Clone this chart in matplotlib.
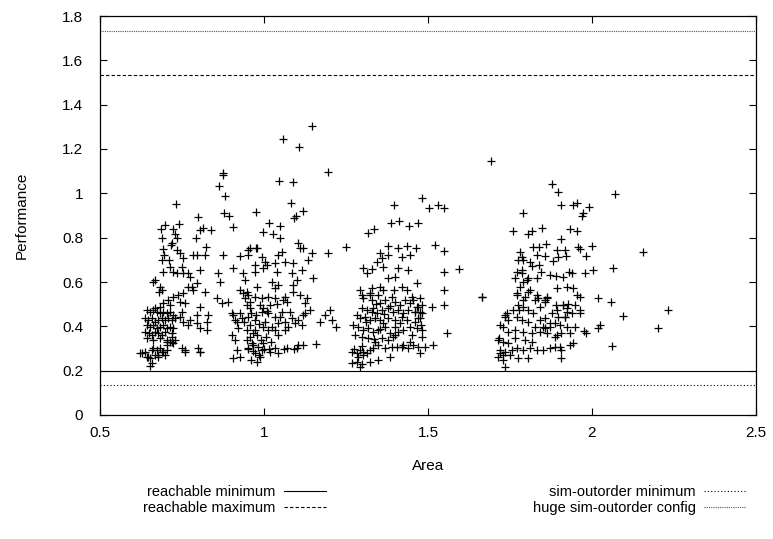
import matplotlib
matplotlib.use("Agg")
import matplotlib.pyplot as plt
from matplotlib.lines import Line2D
from matplotlib.ticker import FuncFormatter

plt.rcParams['font.family'] = ['Liberation Sans', 'DejaVu Sans']
plt.rcParams['font.size'] = 10

# reference levels
reach_min = 0.200
reach_max = 1.534
sim_min = 0.135
sim_huge = 1.732

# (area, performance), grouped by cluster
cluster1 = [
    (0.875, 1.093), (0.875, 1.083), (0.864, 1.033), (0.882, 0.988), (0.879, 0.911), (0.894, 0.899),
    (0.904, 0.847), (0.731, 0.950), (0.798, 0.894), (0.685, 0.837), (0.699, 0.857), (0.722, 0.839),
    (0.742, 0.860), (0.689, 0.798), (0.729, 0.816), (0.734, 0.800), (0.806, 0.834), (0.813, 0.843),
    (0.838, 0.834), (0.794, 0.798), (0.822, 0.759),
    (0.692, 0.748), (0.715, 0.767), (0.718, 0.778), (0.696, 0.722), (0.688, 0.699), (0.711, 0.699),
    (0.734, 0.744), (0.744, 0.729), (0.754, 0.707), (0.784, 0.722), (0.795, 0.722), (0.820, 0.722),
    (0.876, 0.722), (0.927, 0.717),
    (0.691, 0.646), (0.713, 0.669), (0.723, 0.646), (0.734, 0.639), (0.749, 0.669), (0.754, 0.639),
    (0.769, 0.639), (0.774, 0.624), (0.805, 0.654), (0.861, 0.639), (0.906, 0.662), (0.937, 0.639),
    (0.942, 0.609),
    (0.668, 0.609), (0.662, 0.601), (0.683, 0.579), (0.688, 0.564), (0.681, 0.556), (0.769, 0.579),
    (0.779, 0.579), (0.784, 0.564), (0.795, 0.594), (0.820, 0.556), (0.866, 0.601), (0.927, 0.564),
    (0.937, 0.549), (0.942, 0.526),
    (0.723, 0.534), (0.739, 0.541), (0.754, 0.549), (0.708, 0.519), (0.693, 0.504), (0.713, 0.496),
    (0.683, 0.489), (0.668, 0.481), (0.744, 0.511), (0.759, 0.504), (0.805, 0.489), (0.856, 0.526),
    (0.871, 0.504), (0.891, 0.511), (0.749, 0.466), (0.795, 0.451), (0.830, 0.451), (0.906, 0.451),
    (0.927, 0.459), (0.917, 0.421),
    (0.642, 0.474), (0.652, 0.466), (0.663, 0.474), (0.673, 0.466), (0.683, 0.459), (0.693, 0.466),
    (0.703, 0.459), (0.713, 0.466), (0.724, 0.451), (0.637, 0.436), (0.647, 0.428), (0.658, 0.436),
    (0.668, 0.421), (0.678, 0.428), (0.688, 0.436), (0.698, 0.428), (0.708, 0.436), (0.718, 0.428),
    (0.729, 0.436), (0.744, 0.444), (0.754, 0.421), (0.642, 0.406), (0.652, 0.398), (0.663, 0.406),
    (0.673, 0.391), (0.683, 0.398), (0.693, 0.406), (0.703, 0.391), (0.713, 0.398), (0.724, 0.391),
    (0.637, 0.376), (0.648, 0.368), (0.658, 0.361), (0.668, 0.376), (0.678, 0.368), (0.688, 0.361),
    (0.698, 0.376), (0.719, 0.368), (0.642, 0.346), (0.663, 0.338), (0.683, 0.346), (0.703, 0.338),
    (0.769, 0.406), (0.795, 0.414), (0.805, 0.391), (0.825, 0.421), (0.825, 0.383), (0.774, 0.428),
    (0.719, 0.353), (0.729, 0.338),
    (0.622, 0.278), (0.637, 0.286), (0.647, 0.263), (0.658, 0.233), (0.663, 0.301), (0.673, 0.293),
    (0.683, 0.301), (0.693, 0.286), (0.698, 0.271), (0.668, 0.271), (0.652, 0.256), (0.678, 0.263),
    (0.749, 0.301), (0.759, 0.293), (0.800, 0.301), (0.805, 0.286), (0.724, 0.323), (0.703, 0.316),
    (0.713, 0.331), (0.627, 0.278), (0.642, 0.263), (0.652, 0.222), (0.658, 0.293), (0.688, 0.285),
    (0.703, 0.293), (0.678, 0.270), (0.759, 0.285), (0.805, 0.285), (0.703, 0.330), (0.718, 0.330),
]

cluster2 = [
    (1.145, 1.304), (1.058, 1.244), (1.107, 1.210), (1.195, 1.098), (1.045, 1.057), (1.088, 1.052),
    (1.083, 0.958), (1.119, 0.919), (1.097, 0.898), (1.092, 0.887), (0.975, 0.914), (1.016, 0.866),
    (1.050, 0.852), (0.997, 0.825), (1.028, 0.816), (1.050, 0.800), (1.103, 0.774), (1.110, 0.755),
    (1.118, 0.752), (1.249, 0.759), (0.957, 0.752), (0.976, 0.755),
    (1.145, 0.729), (1.196, 0.729), (1.135, 0.699), (1.044, 0.722), (1.054, 0.737), (1.064, 0.692),
    (1.089, 0.684), (0.978, 0.752), (0.952, 0.744), (0.952, 0.722), (0.993, 0.714), (1.003, 0.692),
    (0.972, 0.677), (1.008, 0.677), (1.033, 0.684), (1.115, 0.654), (1.084, 0.639), (1.039, 0.647),
    (0.972, 0.647), (0.998, 0.662),
    (1.150, 0.616), (1.100, 0.609), (1.089, 0.586), (1.023, 0.601), (1.044, 0.586), (1.033, 0.571),
    (0.978, 0.579), (0.947, 0.556), (0.952, 0.541), (1.089, 0.556), (1.110, 0.541), (1.130, 0.526),
    (1.125, 0.504), (1.140, 0.474), (1.064, 0.534), (1.059, 0.519), (1.069, 0.511), (1.033, 0.526),
    (1.013, 0.534), (0.993, 0.526), (0.972, 0.534), (0.957, 0.511), (0.947, 0.496), (0.957, 0.481),
    (0.988, 0.496), (0.998, 0.481), (1.018, 0.496), (0.993, 0.466), (1.013, 0.459), (1.033, 0.444),
    (1.054, 0.466), (1.079, 0.466), (1.084, 0.436), (1.105, 0.429), (1.115, 0.406), (1.094, 0.414),
    (1.120, 0.451), (1.125, 0.459), (1.064, 0.421), (1.044, 0.414), (1.023, 0.398), (1.003, 0.421),
    (0.972, 0.428), (0.952, 0.444), (0.957, 0.406), (0.947, 0.383), (0.972, 0.383), (0.998, 0.398),
    (1.013, 0.383), (1.033, 0.383), (1.044, 0.361), (1.074, 0.398), (1.064, 0.383),
    (1.171, 0.421), (1.186, 0.451), (1.201, 0.474), (1.206, 0.428), (1.221, 0.398),
    (0.947, 0.338), (0.962, 0.323), (0.952, 0.301), (0.967, 0.316), (0.983, 0.308), (0.993, 0.293),
    (0.972, 0.278), (0.988, 0.263), (0.978, 0.241), (0.998, 0.323), (1.018, 0.286), (1.033, 0.301),
    (1.044, 0.278), (1.069, 0.301), (1.100, 0.301), (1.105, 0.316), (1.120, 0.316), (0.957, 0.353),
    (0.978, 0.361),
    (0.901, 0.459), (0.912, 0.428), (0.901, 0.361), (0.912, 0.338), (0.917, 0.293), (0.907, 0.256),
    (0.927, 0.263), (0.922, 0.391), (0.932, 0.436),
    (0.960, 0.460), (0.975, 0.450), (0.985, 0.410), (0.965, 0.370), (0.990, 0.340), (1.005, 0.350),
    (1.020, 0.330), (1.010, 0.470), (1.040, 0.500), (1.050, 0.440), (0.940, 0.420), (0.950, 0.300),
    (0.965, 0.290), (0.985, 0.270), (1.000, 0.300), (1.015, 0.300), (0.960, 0.250), (1.060, 0.300),
    (1.090, 0.300), (1.160, 0.320),
]

cluster3 = [
    (1.481, 0.977), (1.395, 0.947), (1.504, 0.932), (1.530, 0.947), (1.550, 0.932), (1.388, 0.868),
    (1.413, 0.875), (1.441, 0.854), (1.471, 0.865), (1.318, 0.819), (1.334, 0.837), (1.379, 0.764),
    (1.410, 0.755), (1.435, 0.764), (1.464, 0.755), (1.522, 0.767), (1.550, 0.740), (1.550, 0.646),
    (1.593, 0.657), (1.550, 0.564), (1.549, 0.496), (1.557, 0.368), (1.666, 0.531), (1.511, 0.489),
    (1.354, 0.729), (1.359, 0.707), (1.344, 0.692), (1.379, 0.722), (1.303, 0.662), (1.313, 0.639),
    (1.329, 0.657), (1.364, 0.669), (1.410, 0.662), (1.440, 0.654), (1.420, 0.714), (1.445, 0.722),
    (1.466, 0.594), (1.354, 0.579), (1.379, 0.616), (1.400, 0.624), (1.329, 0.571), (1.298, 0.541),
    (1.323, 0.541), (1.364, 0.564), (1.395, 0.564), (1.420, 0.579), (1.435, 0.564), (1.450, 0.534),
    (1.476, 0.526), (1.471, 0.489), (1.481, 0.459), (1.461, 0.466), (1.476, 0.436),
    (1.293, 0.564), (1.303, 0.526), (1.323, 0.549), (1.328, 0.519), (1.349, 0.541), (1.354, 0.504),
    (1.369, 0.519), (1.389, 0.534), (1.399, 0.511), (1.415, 0.496), (1.430, 0.519), (1.445, 0.504),
    (1.455, 0.519), (1.465, 0.489), (1.481, 0.496), (1.476, 0.466), (1.298, 0.481), (1.313, 0.474),
    (1.328, 0.466), (1.333, 0.481), (1.344, 0.459), (1.359, 0.474), (1.379, 0.481), (1.394, 0.466),
    (1.410, 0.474), (1.425, 0.459), (1.440, 0.474), (1.460, 0.466), (1.471, 0.436), (1.283, 0.451),
    (1.293, 0.436), (1.308, 0.444), (1.323, 0.429), (1.338, 0.436), (1.354, 0.429), (1.364, 0.413),
    (1.379, 0.436), (1.399, 0.429), (1.415, 0.413), (1.435, 0.429), (1.445, 0.398), (1.466, 0.391),
    (1.481, 0.383), (1.272, 0.406), (1.288, 0.398), (1.303, 0.383), (1.318, 0.391), (1.333, 0.376),
    (1.349, 0.383), (1.369, 0.398), (1.384, 0.368), (1.399, 0.361), (1.410, 0.376), (1.425, 0.383),
    (1.450, 0.361), (1.481, 0.353), (1.277, 0.361), (1.298, 0.353), (1.318, 0.346), (1.338, 0.331),
    (1.359, 0.346), (1.379, 0.338), (1.394, 0.353), (1.425, 0.316), (1.445, 0.331), (1.455, 0.316),
    (1.471, 0.308), (1.491, 0.308), (1.516, 0.316), (1.267, 0.286), (1.283, 0.278), (1.293, 0.293),
    (1.303, 0.286), (1.313, 0.278), (1.323, 0.293), (1.288, 0.263), (1.303, 0.271), (1.333, 0.301),
    (1.349, 0.316), (1.369, 0.301), (1.389, 0.308), (1.405, 0.308), (1.420, 0.308), (1.440, 0.301),
    (1.476, 0.278), (1.384, 0.263), (1.349, 0.248), (1.323, 0.241), (1.267, 0.233), (1.293, 0.218),
    (1.340, 0.500), (1.365, 0.455), (1.385, 0.490), (1.420, 0.440), (1.400, 0.395), (1.355, 0.390),
    (1.310, 0.420), (1.300, 0.310), (1.335, 0.345), (1.460, 0.420), (1.480, 0.405), (1.275, 0.300),
    (1.285, 0.240), (1.300, 0.230),
]

cluster4 = [
    (1.692, 1.146), (1.877, 1.040), (1.897, 1.007), (2.071, 0.998), (1.905, 0.947), (1.941, 0.947),
    (1.953, 0.958), (1.992, 0.937), (1.974, 0.913), (1.968, 0.898), (1.790, 0.911), (1.760, 0.830),
    (1.806, 0.816), (1.818, 0.830), (1.849, 0.845), (1.933, 0.840), (1.955, 0.831), (1.907, 0.792),
    (2.156, 0.734), (1.665, 0.534), (2.233, 0.473), (2.202, 0.391), (2.060, 0.313), (2.065, 0.661),
    (2.093, 0.446), (2.017, 0.526), (2.058, 0.511), (2.024, 0.406), (2.019, 0.391),
    (1.999, 0.764), (1.982, 0.717), (1.958, 0.759), (1.963, 0.749), (2.004, 0.654), (1.979, 0.639),
    (1.938, 0.642), (1.931, 0.646), (1.977, 0.380), (1.982, 0.371), (1.894, 0.744), (1.918, 0.744),
    (1.921, 0.717), (1.897, 0.711), (1.880, 0.695), (1.821, 0.759), (1.838, 0.759), (1.859, 0.770),
    (1.831, 0.722), (1.857, 0.717), (1.780, 0.737), (1.786, 0.711), (1.775, 0.699), (1.791, 0.699),
    (1.811, 0.691), (1.816, 0.672), (1.839, 0.676), (1.846, 0.646), (1.872, 0.631), (1.889, 0.628),
    (1.913, 0.624), (1.786, 0.642), (1.770, 0.646), (1.765, 0.616), (1.791, 0.601), (1.806, 0.616),
    (1.831, 0.616), (1.780, 0.579), (1.770, 0.541), (1.796, 0.534), (1.811, 0.564), (1.831, 0.541),
    (1.862, 0.534), (1.857, 0.519), (1.836, 0.526), (1.892, 0.571), (1.923, 0.579), (1.943, 0.571),
    (1.953, 0.541), (1.963, 0.534),
    (1.890, 0.496), (1.913, 0.496), (1.928, 0.501), (1.948, 0.496), (1.963, 0.473), (1.923, 0.466),
    (1.918, 0.443), (1.897, 0.443), (1.877, 0.458), (1.857, 0.436), (1.841, 0.428), (1.821, 0.458),
    (1.806, 0.473), (1.791, 0.488), (1.775, 0.496), (1.760, 0.473), (1.740, 0.458), (1.735, 0.443),
    (1.770, 0.443), (1.786, 0.428), (1.806, 0.421), (1.826, 0.398), (1.852, 0.398), (1.872, 0.413),
    (1.887, 0.413), (1.902, 0.406), (1.923, 0.398), (1.933, 0.368), (1.907, 0.368), (1.887, 0.353),
    (1.862, 0.368), (1.841, 0.376), (1.816, 0.368), (1.791, 0.376), (1.765, 0.383), (1.745, 0.376),
    (1.719, 0.406), (1.730, 0.398),
    (1.714, 0.338), (1.730, 0.331), (1.745, 0.323), (1.719, 0.293), (1.735, 0.286), (1.714, 0.263),
    (1.730, 0.248), (1.735, 0.218), (1.755, 0.293), (1.770, 0.301), (1.791, 0.293), (1.811, 0.301),
    (1.831, 0.293), (1.852, 0.293), (1.872, 0.301), (1.887, 0.308), (1.907, 0.293), (1.907, 0.255),
    (1.933, 0.316), (1.943, 0.323), (1.775, 0.255), (1.806, 0.255), (1.750, 0.270), (1.796, 0.338),
    (1.816, 0.331), (1.765, 0.346),
    (1.786, 0.654), (1.801, 0.609), (1.771, 0.549), (1.791, 0.519), (1.806, 0.556), (1.776, 0.474),
    (1.735, 0.451), (1.745, 0.428), (1.715, 0.346), (1.720, 0.278), (1.730, 0.271), (1.826, 0.519),
    (1.842, 0.489), (1.857, 0.511), (1.862, 0.526), (1.892, 0.474), (1.913, 0.496), (1.923, 0.481),
    (1.918, 0.444), (1.938, 0.459), (1.948, 0.398), (1.964, 0.459), (1.872, 0.398), (1.892, 0.361),
    (1.903, 0.308), (1.857, 0.391),
]

points = cluster1 + cluster2 + cluster3 + cluster4
area = [p[0] for p in points]
perf = [p[1] for p in points]

fig = plt.figure(figsize=(7.73, 5.39), dpi=100)
ax = fig.add_axes([100 / 773, 1 - 415 / 539, 656 / 773, 399 / 539])

ax.plot(area, perf, linestyle='none', marker='+', markersize=6,
        markeredgewidth=0.9, color='black')

ax.axhline(reach_min, color='black', lw=0.8, ls='-')
ax.axhline(reach_max, color='black', lw=0.8, ls=(0, (3, 2)))
ax.axhline(sim_min, color='black', lw=0.8, ls=(0, (1, 2)))
ax.axhline(sim_huge, color='#555555', lw=0.8, ls=(0, (1, 1)))

ax.set_xlim(0.5, 2.5)
ax.set_ylim(0, 1.8)
ax.set_xticks([0.5, 1, 1.5, 2, 2.5])
ax.set_yticks([0, 0.2, 0.4, 0.6, 0.8, 1, 1.2, 1.4, 1.6, 1.8])
fmt = FuncFormatter(lambda v, p: '%g' % round(v, 3))
ax.xaxis.set_major_formatter(fmt)
ax.yaxis.set_major_formatter(fmt)
ax.tick_params(direction='in', length=5, width=0.8, top=True, right=True,
               labelsize=11)
ax.tick_params(axis='x', pad=8)
ax.tick_params(axis='y', pad=12)
for s in ax.spines.values():
    s.set_linewidth(0.9)

ax.set_xlabel('Area', fontsize=11)
ax.set_ylabel('Performance', fontsize=11)
ax.xaxis.set_label_coords(0.5, -0.110)
ax.yaxis.set_label_coords(-0.108, 0.5)

kw = dict(markerfirst=False, frameon=False, fontsize=10.5, borderpad=0,
          borderaxespad=0, handlelength=2.9, handletextpad=0.55, labelspacing=0.12)
h1 = Line2D([], [], color='black', lw=0.8, ls='-')
h2 = Line2D([], [], color='black', lw=0.8, ls=(0, (3, 2)))
h3 = Line2D([], [], color='black', lw=0.8, ls=(0, (1, 2)))
h4 = Line2D([], [], color='#555555', lw=0.8, ls=(0, (1, 1)))
fig.legend([h1, h2], ['reachable minimum', 'reachable maximum'],
           loc='upper right', bbox_to_anchor=(326 / 773, 1 - 485 / 539), **kw)
fig.legend([h3, h4], ['sim-outorder minimum', 'huge sim-outorder config'],
           loc='upper right', bbox_to_anchor=(746 / 773, 1 - 485 / 539), **kw)

fig.savefig('out.png', dpi=100)
